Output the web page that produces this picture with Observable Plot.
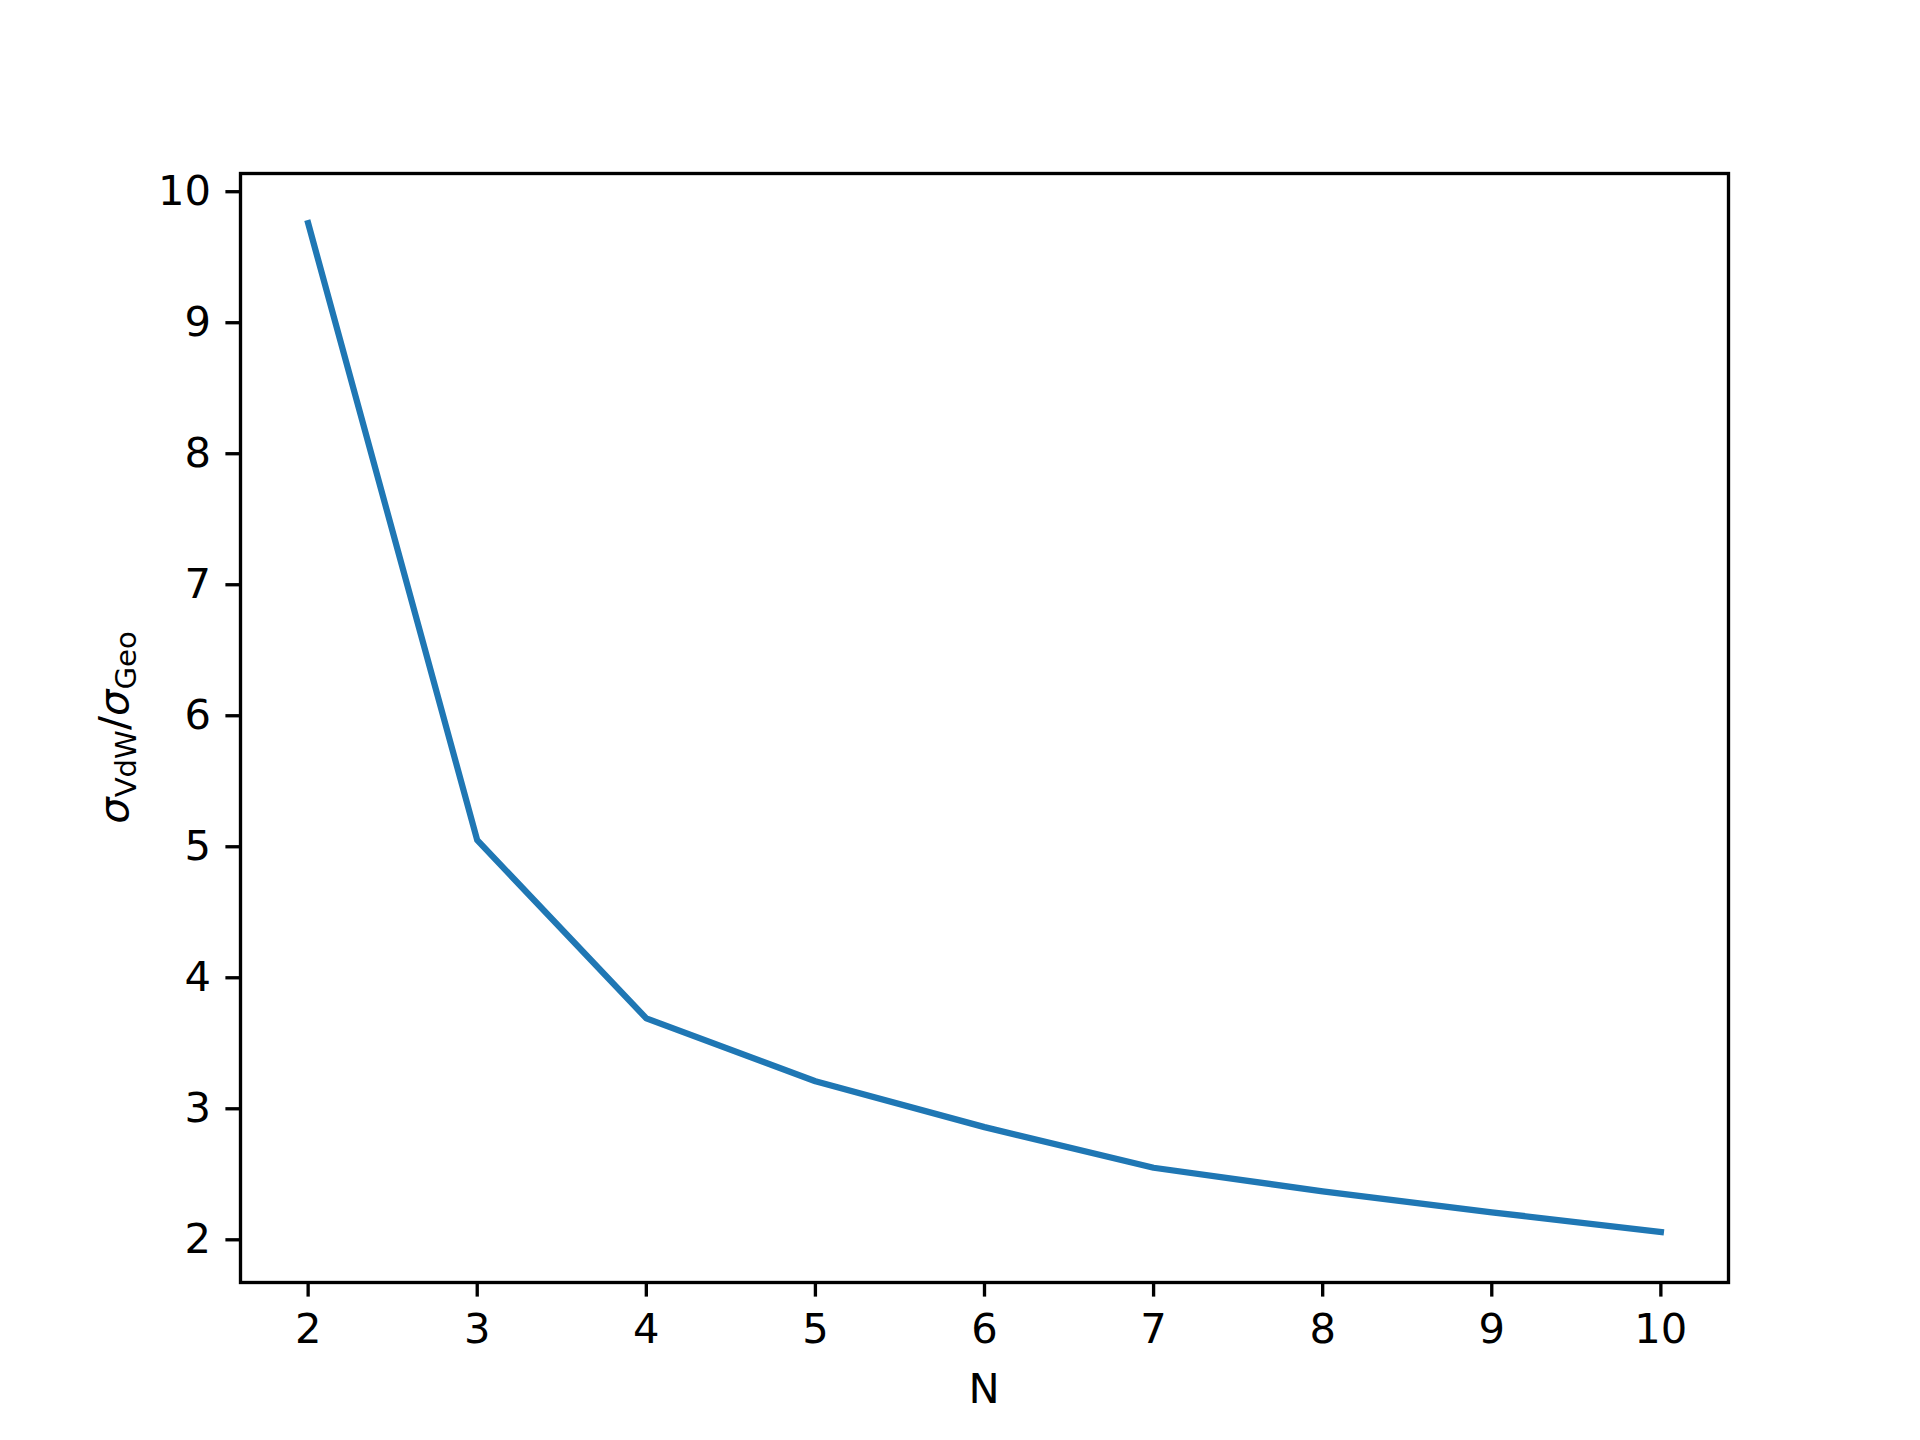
<!DOCTYPE html>
<html>
<head>
<meta charset="utf-8">
<script src="https://cdn.jsdelivr.net/npm/d3@7"></script>
<script src="https://cdn.jsdelivr.net/npm/@observablehq/plot@0.6"></script>
<style>
  html, body { margin: 0; padding: 0; background: #ffffff; }
  #chart { width: 1920px; height: 1440px; }
</style>
</head>
<body>
<div id="chart"></div>
<script>
// Data
const nValues = [2, 3, 4, 5, 6, 7, 8, 9, 10];
const ratioValues = [9.76, 5.05, 3.69, 3.21, 2.86, 2.55, 2.37, 2.21, 2.06];
const xTicks = [2, 3, 4, 5, 6, 7, 8, 9, 10];
const yTicks = [2, 3, 4, 5, 6, 7, 8, 9, 10];
const xLabel = "N";

const data = nValues.map((n, i) => ({n, r: ratioValues[i]}));

const FONT = "DejaVu Sans, sans-serif";
const FS = 41.67;

const chart = Plot.plot({
  width: 1920,
  height: 1440,
  marginLeft: 240,
  marginRight: 192,
  marginTop: 173,
  marginBottom: 158,
  style: {fontFamily: FONT, fontSize: FS + "px", color: "#000", background: "#fff"},
  x: {domain: [1.6, 10.4]},
  y: {domain: [1.674, 10.139]},
  marks: [
    Plot.line(data, {x: "n", y: "r", stroke: "#1f77b4", strokeWidth: 6.25,
      strokeLinecap: "square", strokeLinejoin: "round"}),
    Plot.frame({stroke: "#000", strokeWidth: 3.33}),
    Plot.axisX({ticks: xTicks, tickFormat: d => String(d), tickSize: 14.6, tickPadding: 16,
      strokeWidth: 3.33, fontSize: FS, label: null, fill: "#000"}),
    Plot.axisY({ticks: yTicks, tickFormat: d => String(d), tickSize: 14.6, tickPadding: 15,
      strokeWidth: 3.33, fontSize: FS, label: null, fill: "#000"})
  ]
});

document.getElementById("chart").appendChild(chart);

const svg = d3.select(chart.tagName.toLowerCase() === "svg" ? chart : chart.querySelector("svg"));

// X label
svg.append("text")
  .attr("x", (240 + 1728) / 2)
  .attr("y", 1403)
  .attr("text-anchor", "middle")
  .attr("font-family", FONT)
  .attr("font-size", FS)
  .attr("fill", "#000")
  .text(xLabel);

// Y label: σ_VdW / σ_Geo
const yl = svg.append("text")
  .attr("transform", `translate(128, ${(173 + 1282) / 2}) rotate(-90)`)
  .attr("text-anchor", "middle")
  .attr("font-family", FONT)
  .attr("font-size", FS)
  .attr("fill", "#000");
yl.append("tspan").attr("font-style", "italic").text("σ");
yl.append("tspan").attr("font-size", FS * 0.7).attr("dy", 8).text("VdW");
yl.append("tspan").attr("dy", -8).text("/");
yl.append("tspan").attr("font-style", "italic").text("σ");
yl.append("tspan").attr("font-size", FS * 0.7).attr("dy", 8).text("Geo");
</script>
</body>
</html>
